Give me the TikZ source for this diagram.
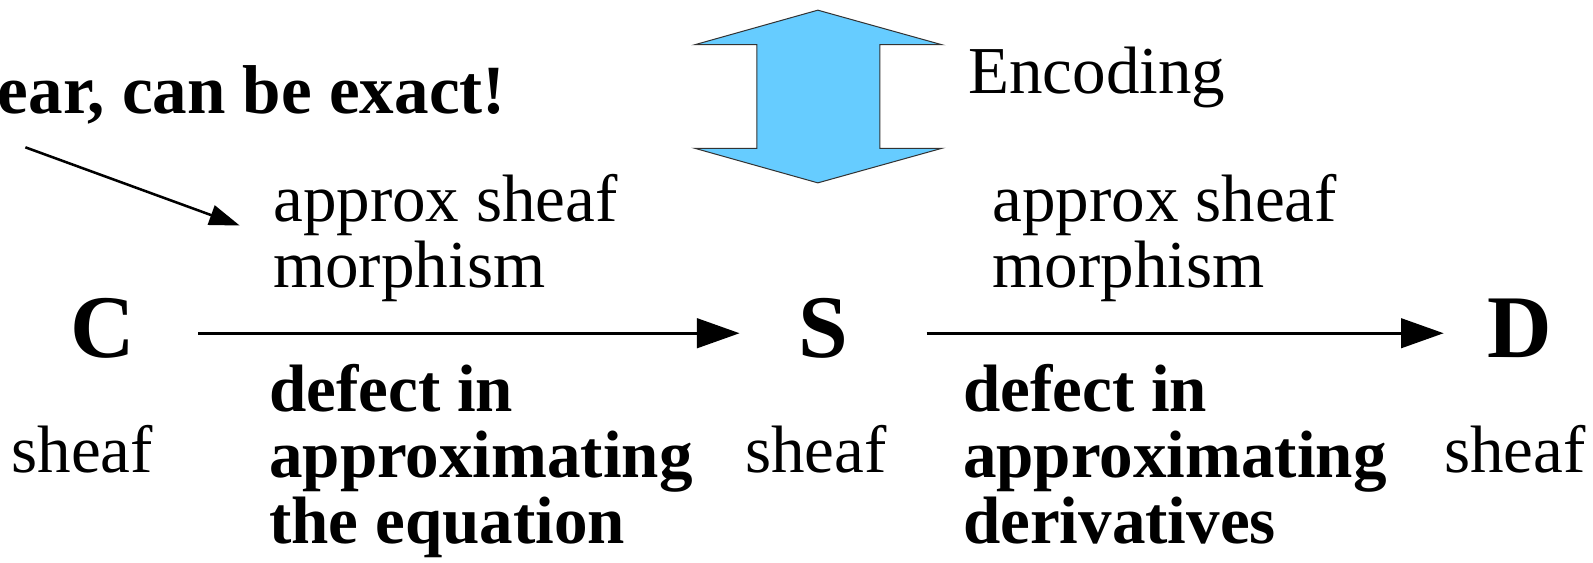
\documentclass[tikz,border=0pt]{standalone}
\usepackage{fontspec}
\setmainfont{Liberation Serif}
\usetikzlibrary{arrows.meta}
\definecolor{encblue}{HTML}{66CCFF}
\tikzset{
  txt/.style={inner sep=0pt, outer sep=0pt, anchor=base west, align=left, font=\fontsize{66}{65}\selectfont},
  btxt/.style={txt, font=\fontsize{66}{65}\selectfont\bfseries},
  big/.style={inner sep=0pt, outer sep=0pt, anchor=base, font=\fontsize{88}{88}\selectfont\bfseries},
  sheaflbl/.style={inner sep=0pt, outer sep=0pt, anchor=base, font=\fontsize{66}{65}\selectfont},
  mainarrow/.style={line width=3pt, -{Triangle[length=42pt,width=29pt]}},
  notearrow/.style={line width=2.5pt, -{Triangle[length=30pt,width=20pt]}},
  encarrow/.style={fill=encblue, draw=black!80, line width=1pt, line join=miter}
}
\begin{document}
\begin{tikzpicture}[x=1pt,y=-1pt]
\useasboundingbox (0,0) rectangle (1568,554);
% top note
\node[btxt, font=\fontsize{68}{65}\selectfont\bfseries] (ear) at (-2,112) {ear, can be exact!};
\coordinate (n1) at (25,145);
\coordinate (n2) at (236,222);
\draw[notearrow] (n1) -- (n2);
% encoding double arrow
\draw[encarrow] (805,10) -- (927,44) -- (866,44) -- (866,146) -- (927,146) -- (805,180) -- (684,146) -- (745,146) -- (745,44) -- (684,44) -- cycle;
\node[txt] (enc) at (953,92) {Encoding};
% objects
\node[big] (C) at (101,352) {C};
\node[big] (S) at (810,352) {S};
\node[big] (D) at (1496,352) {D};
\node[sheaflbl] (sC) at (81,465) {sheaf};
\node[sheaflbl] (sS) at (803,465) {sheaf};
\node[sheaflbl] (sD) at (1491,465) {sheaf};
% arrows
\coordinate (a1s) at (195,328);
\coordinate (a1e) at (728,328);
\coordinate (a2s) at (912,328);
\coordinate (a2e) at (1421,328);
\draw[mainarrow] (a1s) -- (a1e);
\draw[mainarrow] (a2s) -- (a2e);
% labels (anchor = baseline of last line)
\node[txt] (m1) at (269,283) {approx sheaf\\morphism};
\node[txt] (m2) at (977,283) {approx sheaf\\morphism};
\node[btxt] (d1) at (265,535) {defect in\\approximating\\the equation};
\node[btxt] (d2) at (948,535) {defect in\\approximating\\derivatives};
\end{tikzpicture}
\end{document}
